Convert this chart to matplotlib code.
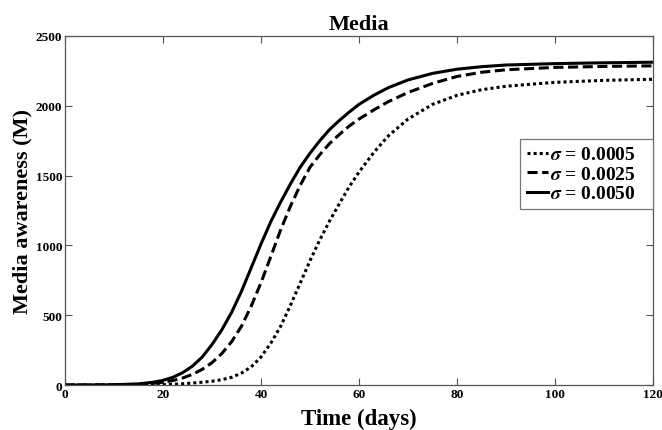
import matplotlib
matplotlib.use("Agg")
import matplotlib.pyplot as plt

days = [0, 5, 10, 15, 18, 20, 22, 24, 26, 28, 30, 32, 34, 36, 38, 40, 42, 44, 46, 48,
        50, 52, 54, 56, 58, 60, 63, 66, 70, 75, 80, 85, 90, 100, 110, 120]

m_0005 = [0, 0, 0, 1, 2, 3, 5, 9, 14, 20, 27, 38, 55, 85, 130, 200, 300, 420, 570, 730,
          890, 1040, 1175, 1300, 1420, 1525, 1665, 1785, 1905, 2010, 2075, 2115, 2140, 2168, 2182, 2190]
m_0025 = [0, 0, 1, 5, 12, 20, 32, 50, 76, 112, 160, 225, 310, 420, 565, 733, 920, 1110, 1280, 1430,
          1560, 1650, 1730, 1795, 1855, 1905, 1970, 2030, 2095, 2160, 2210, 2240, 2258, 2275, 2282, 2286]
m_0050 = [0, 0, 2, 8, 20, 33, 55, 88, 135, 200, 290, 395, 520, 670, 840, 1010, 1170, 1310, 1440, 1560,
          1660, 1750, 1830, 1895, 1955, 2010, 2075, 2130, 2185, 2232, 2262, 2280, 2292, 2302, 2308, 2312]

labels = [r"$\sigma$ = 0.0005", r"$\sigma$ = 0.0025", r"$\sigma$ = 0.0050"]
xticks = [0, 20, 40, 60, 80, 100, 120]
yticks = [0, 500, 1000, 1500, 2000, 2500]

plt.rcParams["font.family"] = ["Liberation Serif", "DejaVu Serif"]
plt.rcParams["font.weight"] = "bold"
plt.rcParams["mathtext.fontset"] = "stix"

fig = plt.figure(figsize=(6.62, 4.31), dpi=100)
ax = fig.add_axes([0.0982, 0.1044, 0.8882, 0.8098])

ax.plot(days, m_0005, linestyle=":", color="black", lw=2.2, dashes=(1, 1), label=labels[0] + "   ")
ax.plot(days, m_0025, linestyle="--", color="black", lw=2.2, dashes=(3.3, 1.5), label=labels[1] + "   ")
ax.plot(days, m_0050, linestyle="-", color="black", lw=2.2, label=labels[2] + "   ")

ax.set_xlim(0, 120)
ax.set_ylim(0, 2500)
ax.set_xticks(xticks)
ax.set_yticks(yticks)
ax.tick_params(direction="in", top=True, right=True, length=5, width=0.8,
               colors="#555555", labelcolor="black", labelsize=9.5, pad=2)
for lab in ax.get_xticklabels() + ax.get_yticklabels():
    lab.set_fontweight("bold")
for s in ax.spines.values():
    s.set_color("#555555")
    s.set_linewidth(0.9)

ax.set_title("Media", fontsize=16, fontweight="bold", pad=5)
ax.set_xlabel("Time (days)", fontsize=16.5, fontweight="bold", labelpad=6)
ax.set_ylabel("Media awareness (M)", fontsize=16, fontweight="bold", labelpad=2)

leg = ax.legend(loc="upper right", bbox_to_anchor=(1.0, 0.705), fontsize=14,
                handlelength=1.1, handletextpad=0.1, borderpad=0.35, labelspacing=0.1,
                fancybox=False, framealpha=1, borderaxespad=0)
leg.get_frame().set_edgecolor("#777777")
leg.get_frame().set_linewidth(0.9)
for t in leg.get_texts():
    t.set_fontweight("bold")

fig.savefig("out.png", dpi=100)
